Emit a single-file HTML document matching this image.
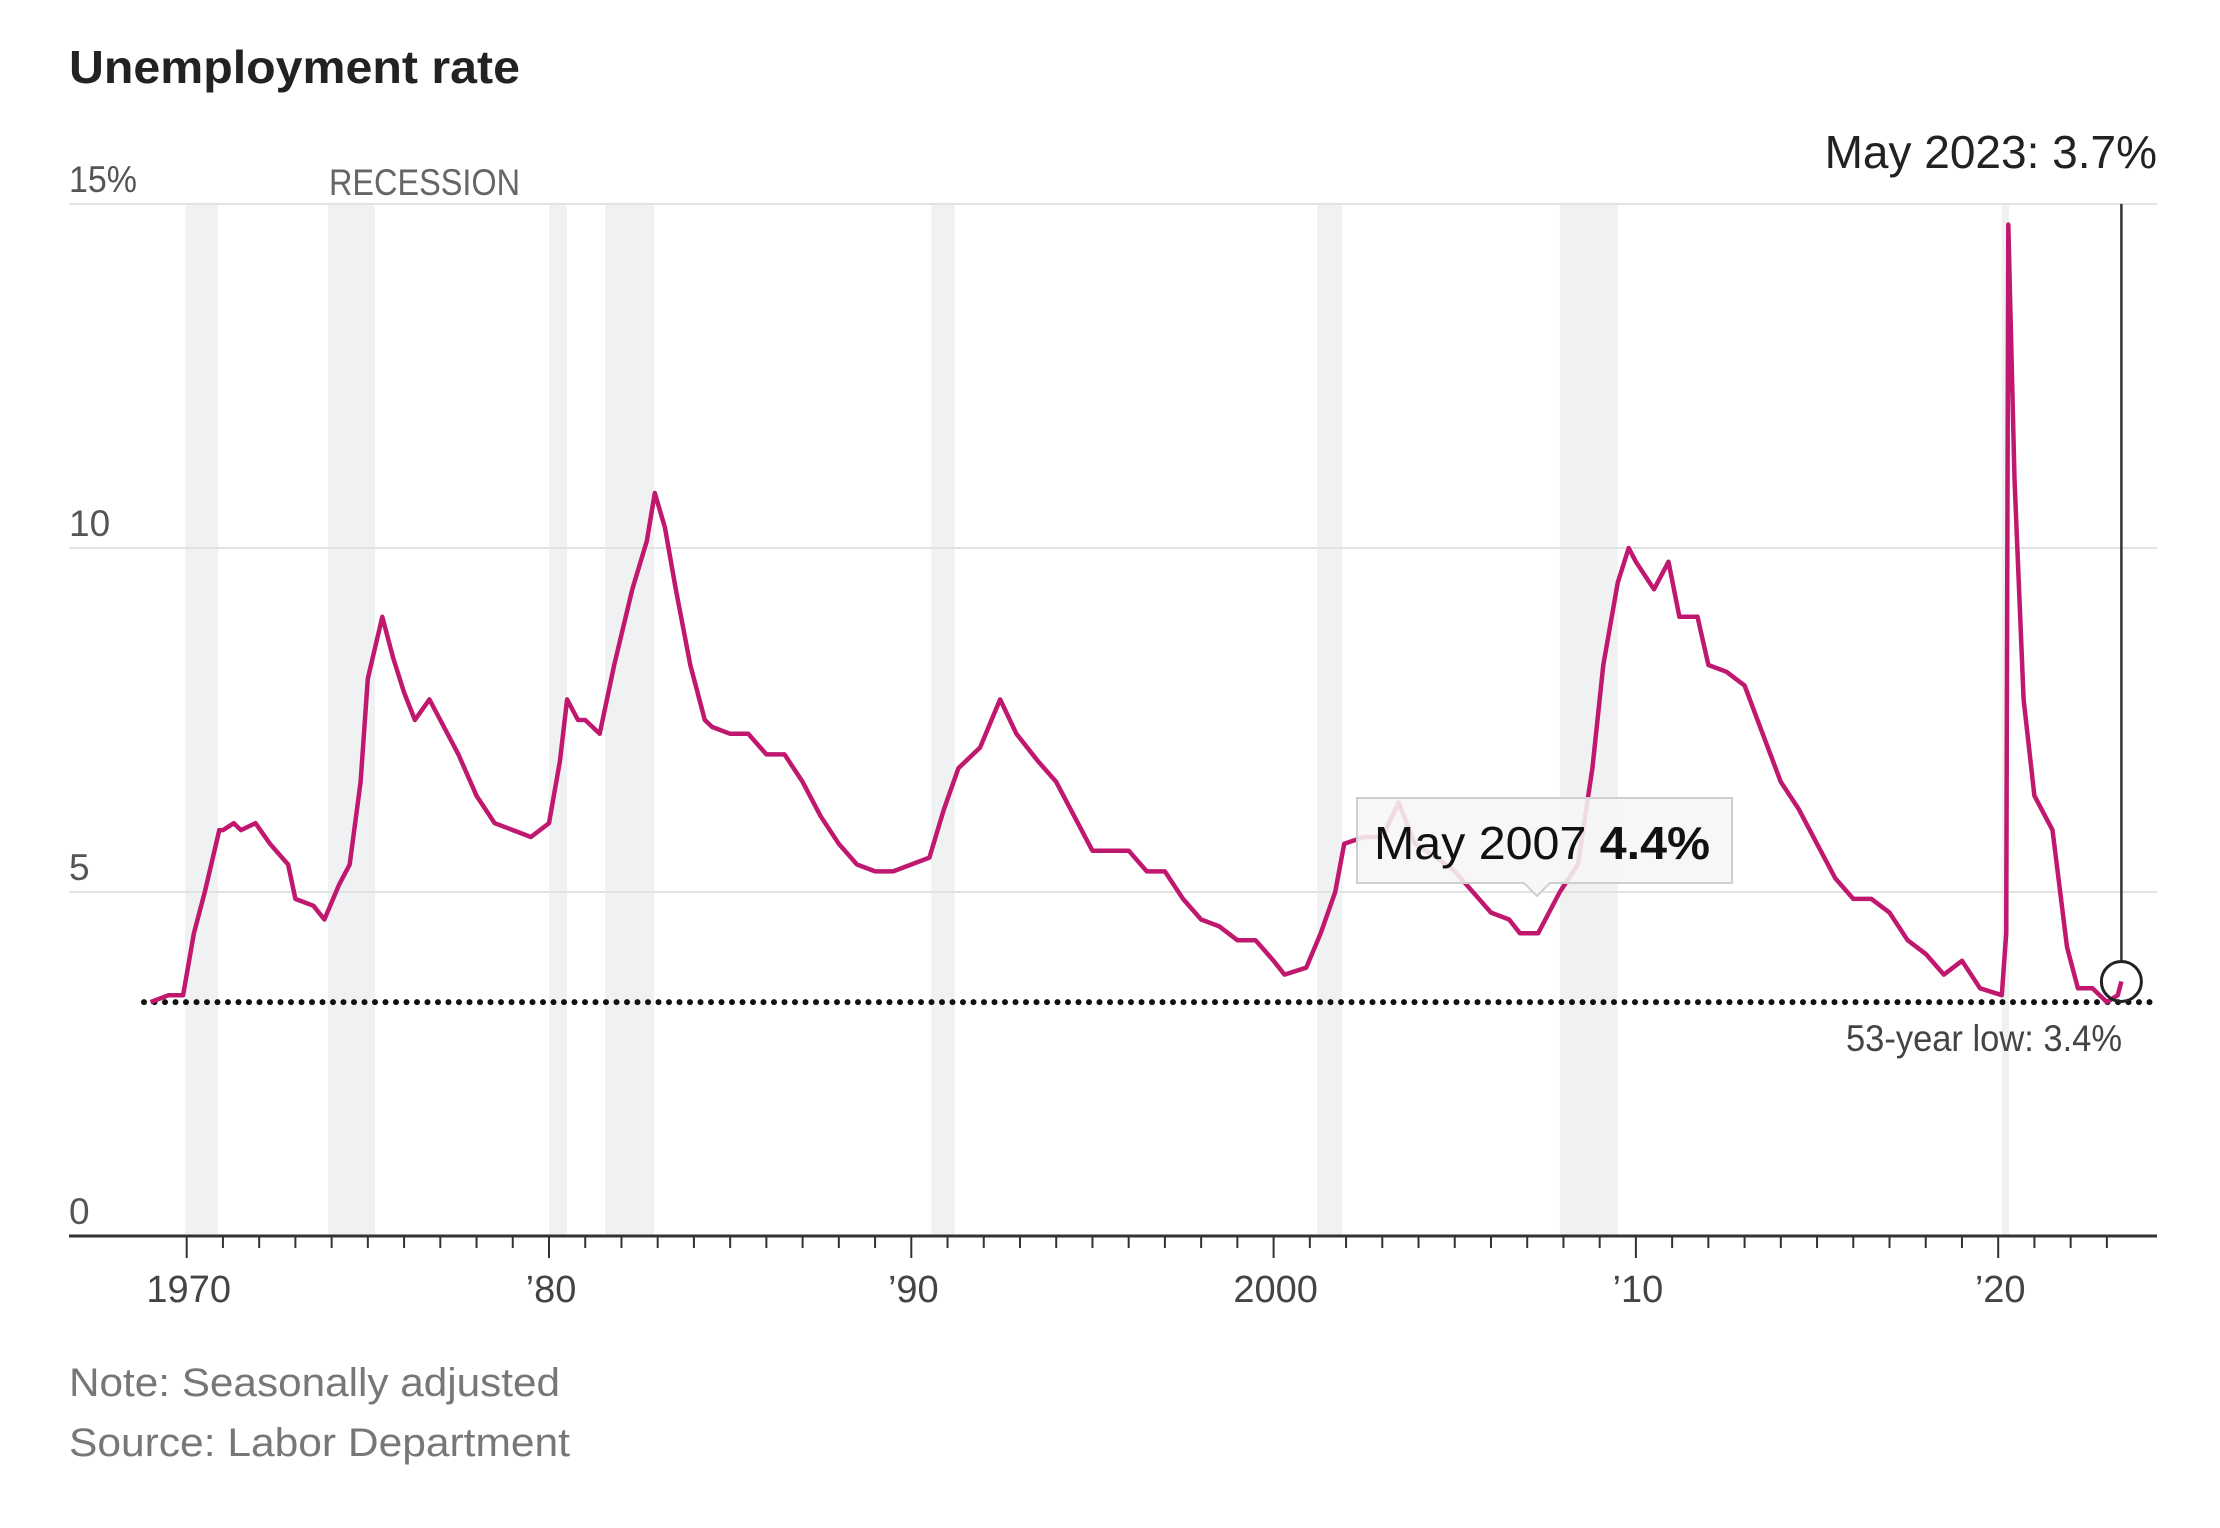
<!DOCTYPE html>
<html><head><meta charset="utf-8"><style>
html,body{margin:0;padding:0;background:#fff;}
svg{display:block;}
text{font-family:"Liberation Sans Narrow","Liberation Sans",sans-serif;}
</style></head><body>
<svg id="chart" width="2220" height="1528" viewBox="0 0 2220 1528" xmlns="http://www.w3.org/2000/svg">
<rect width="2220" height="1528" fill="#fff"/>
<text x="69" y="83" font-size="46" font-weight="bold" fill="#222" textLength="451" lengthAdjust="spacingAndGlyphs">Unemployment rate</text>
<g id="rec"></g>
<g id="grid"></g>
<g id="ylab"></g>
<text x="329" y="195" font-size="37" fill="#666" textLength="191" lengthAdjust="spacingAndGlyphs">RECESSION</text>
<g id="axis"></g>
<line id="lowline" stroke="#111" stroke-width="6" stroke-linecap="round" stroke-dasharray="0 10.5"/>
<path id="series" fill="none" stroke="#c0186f" stroke-width="4.5" stroke-linejoin="round"/>
<line id="vline" stroke="#333" stroke-width="2.5"/>
<circle id="vcirc" r="20" fill="none" stroke="#222" stroke-width="3"/>
<text x="2157" y="168" font-size="46" fill="#222" text-anchor="end">May 2023: 3.7%</text>
<text id="lowlab" x="1846" y="1051" font-size="37" fill="#444" textLength="276" lengthAdjust="spacingAndGlyphs">53-year low: 3.4%</text>
<g>
<path d="M1357 798 H1732 V883 H1550 L1537 896 L1524 883 H1357 Z" fill="#f6f6f6" fill-opacity="0.88" stroke="#cfcfcf" stroke-width="2"/>
<text x="1374" y="859" font-size="46" fill="#111" textLength="336" lengthAdjust="spacingAndGlyphs">May 2007 <tspan font-weight="bold">4.4%</tspan></text>
</g>
<text x="69" y="1396" font-size="40" fill="#777" textLength="491" lengthAdjust="spacingAndGlyphs">Note: Seasonally adjusted</text>
<text x="69" y="1456" font-size="40" fill="#777" textLength="501" lengthAdjust="spacingAndGlyphs">Source: Labor Department</text>
</svg>
<script>
const dates=[1969.0,1969.5,1969.9,1970.2,1970.5,1970.9,1971.0,1971.3,1971.5,1971.9,1972.3,1972.8,1973.0,1973.5,1973.8,1974.2,1974.5,1974.8,1975.0,1975.4,1975.7,1976.0,1976.3,1976.7,1977.0,1977.5,1978.0,1978.5,1979.0,1979.5,1980.0,1980.3,1980.5,1980.8,1981.0,1981.4,1981.8,1982.3,1982.7,1982.92,1983.2,1983.5,1983.9,1984.3,1984.5,1985.0,1985.5,1986.0,1986.5,1987.0,1987.5,1988.0,1988.5,1989.0,1989.5,1990.0,1990.5,1990.9,1991.3,1991.9,1992.45,1992.9,1993.5,1994.0,1994.5,1995.0,1995.5,1996.0,1996.5,1997.0,1997.5,1998.0,1998.5,1999.0,1999.5,2000.0,2000.3,2000.9,2001.3,2001.7,2001.95,2002.5,2003.0,2003.45,2003.9,2004.5,2005.0,2005.5,2006.0,2006.5,2006.8,2007.3,2007.9,2008.4,2008.8,2009.1,2009.5,2009.8,2010.0,2010.5,2010.9,2011.2,2011.7,2012.0,2012.5,2013.0,2013.5,2014.0,2014.5,2015.0,2015.5,2016.0,2016.5,2017.0,2017.5,2018.0,2018.5,2019.0,2019.5,2020.1,2020.22,2020.28,2020.45,2020.7,2021.0,2021.5,2021.9,2022.2,2022.6,2023.0,2023.3,2023.4];
const rates=[3.4,3.5,3.5,4.4,5.0,5.9,5.9,6.0,5.9,6.0,5.7,5.4,4.9,4.8,4.6,5.1,5.4,6.6,8.1,9.0,8.4,7.9,7.5,7.8,7.5,7.0,6.4,6.0,5.9,5.8,6.0,6.9,7.8,7.5,7.5,7.3,8.3,9.4,10.1,10.8,10.3,9.4,8.3,7.5,7.4,7.3,7.3,7.0,7.0,6.6,6.1,5.7,5.4,5.3,5.3,5.4,5.5,6.2,6.8,7.1,7.8,7.3,6.9,6.6,6.1,5.6,5.6,5.6,5.3,5.3,4.9,4.6,4.5,4.3,4.3,4.0,3.8,3.9,4.4,5.0,5.7,5.8,5.8,6.3,5.7,5.5,5.3,5.0,4.7,4.6,4.4,4.4,5.0,5.4,6.8,8.3,9.5,10.0,9.8,9.4,9.8,9.0,9.0,8.3,8.2,8.0,7.3,6.6,6.2,5.7,5.2,4.9,4.9,4.7,4.3,4.1,3.8,4.0,3.6,3.5,4.4,14.7,11.0,7.8,6.4,5.9,4.2,3.6,3.6,3.4,3.5,3.7];
const recStart=[1969.96,1973.9,1980.0,1981.55,1990.55,2001.2,2007.9,2020.1];
const recEnd=[1970.87,1975.2,1980.5,1982.9,1991.2,2001.9,2009.5,2020.3];
const yTicks=[0,5,10,15];
const yTickLabels=["0","5","10","15%"];
const xTicks=[1970,1980,1990,2000,2010,2020];
const xTickLabels=["1970","’80","’90","2000","’10","’20"];
const lowValue=3.4, latestDate=2023.4, latestValue=3.7;

const NS="http://www.w3.org/2000/svg";
const X0=69,X1=2157;
function xs(y){return 186.7+(y-1970)*36.23;}
function ys(v){return 1236-v*68.8;}
function mk(tag,attrs,parent){const e=document.createElementNS(NS,tag);for(const k in attrs)e.setAttribute(k,attrs[k]);parent.appendChild(e);return e;}

const rec=document.getElementById('rec');
recStart.forEach((s,i)=>{
  const r=mk('rect',{x:xs(s),y:ys(15),width:xs(recEnd[i])-xs(s),height:ys(0)-ys(15),fill:'#f0f1f3'},rec);
  
  
});
const grid=document.getElementById('grid'),ylab=document.getElementById('ylab');
yTicks.forEach((v,i)=>{
  if(v>0){const l=mk('line',{x1:X0,x2:X1,y1:ys(v),y2:ys(v),stroke:'#e2e2e2','stroke-width':2},grid);
  
  }
  const attrs={x:X0,y:ys(v)-12,'font-size':37,fill:'#555'};
  if(yTickLabels[i]==="15%"){attrs.textLength=68;attrs.lengthAdjust='spacingAndGlyphs';}
  const t=mk('text',attrs,ylab);
  t.textContent=yTickLabels[i];
  
  
});
const axis=document.getElementById('axis');
const al=mk('line',{x1:X0,x2:X1,y1:ys(0),y2:ys(0),stroke:'#333','stroke-width':3},axis);


for(let y=1970;y<=2023;y++){
  const major=y%10===0;
  const tk=mk('line',{x1:xs(y),x2:xs(y),y1:ys(0),y2:ys(0)+(major?22:12),stroke:'#333','stroke-width':2},axis);
  
  
}
xTicks.forEach((y,i)=>{
  const t=mk('text',{x:xs(y)+2,y:1302,'font-size':38,fill:'#444','text-anchor':'middle'},axis);
  t.textContent=xTickLabels[i];
  
  
});
const low=document.getElementById('lowline');
low.setAttribute('x1',144);low.setAttribute('x2',X1);
low.setAttribute('y1',ys(lowValue));low.setAttribute('y2',ys(lowValue));
document.getElementById('series').setAttribute('d',dates.map((d,i)=>(i?'L':'M')+xs(d).toFixed(1)+' '+ys(rates[i]).toFixed(1)).join(' '));
const vl=document.getElementById('vline');
vl.setAttribute('x1',xs(latestDate));vl.setAttribute('x2',xs(latestDate));
vl.setAttribute('y1',ys(15));vl.setAttribute('y2',ys(latestValue)-20);
const vc=document.getElementById('vcirc');
vc.setAttribute('cx',xs(latestDate));vc.setAttribute('cy',ys(latestValue));
</script>
</body></html>
